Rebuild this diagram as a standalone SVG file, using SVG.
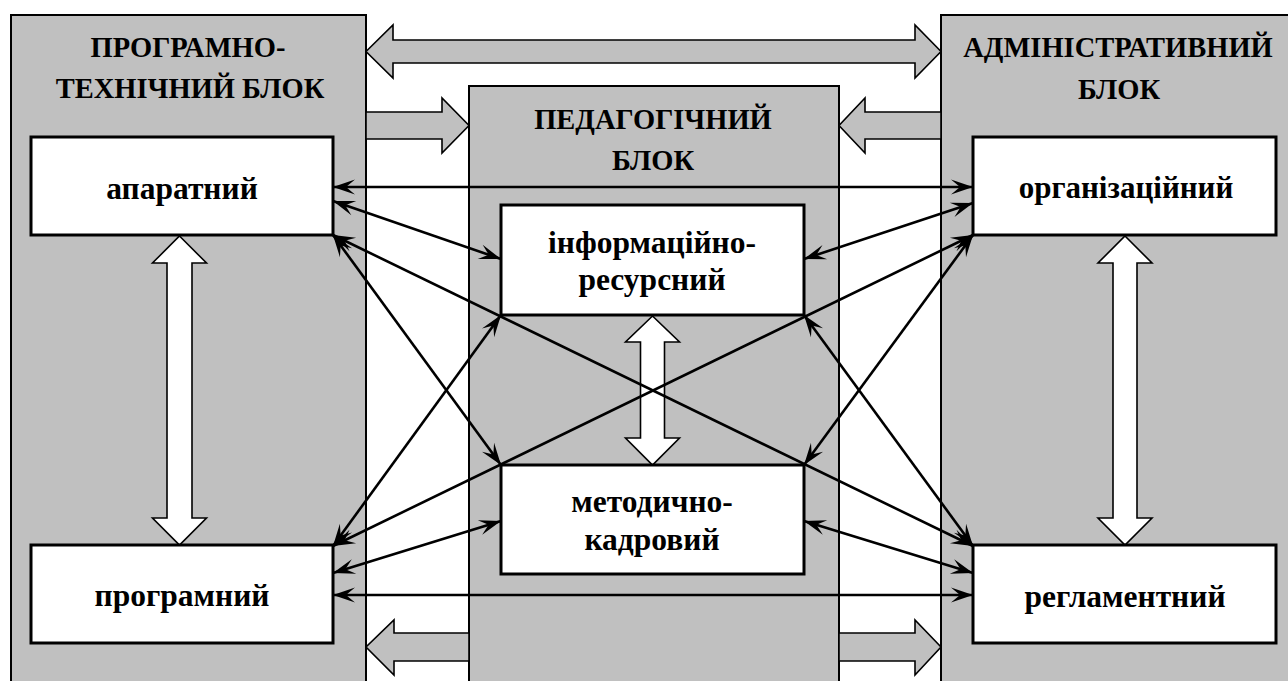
<svg xmlns="http://www.w3.org/2000/svg" width="1288" height="681" viewBox="0 0 1288 681">
<style>
.block{fill:#c0c0c0;stroke:#000;stroke-width:2}
.box{fill:#fff;stroke:#000;stroke-width:3}
.garrow{fill:#c0c0c0;stroke:#000;stroke-width:1.6;stroke-linejoin:miter}
.warrow{fill:#fff;stroke:#000;stroke-width:1.6;stroke-linejoin:miter}
.conn{stroke:#000;stroke-width:2.6;fill:none;marker-start:url(#ah);marker-end:url(#ah)}
</style>
<defs>
<marker id="ah" markerUnits="userSpaceOnUse" viewBox="-24 -9 26 18" markerWidth="26" markerHeight="18" refX="0" refY="0" orient="auto-start-reverse">
<path d="M0,0 L-22,-7.5 L-13,0 L-22,7.5 Z" fill="#000"/>
</marker>
</defs>
<rect width="1288" height="681" fill="#fff"/>
<g id="block-left">
<rect class="block" x="11" y="15" width="355" height="700"/>
<text x="188" y="57" font-family="Liberation Serif" font-weight="bold" font-size="28.5" text-anchor="middle">ПРОГРАМНО-</text>
<text x="190" y="98" font-family="Liberation Serif" font-weight="bold" font-size="28.5" text-anchor="middle">ТЕХНІЧНИЙ БЛОК</text>
</g>
<g id="block-middle">
<rect class="block" x="469" y="86" width="370" height="700"/>
<text x="653" y="129" font-family="Liberation Serif" font-weight="bold" font-size="28.5" text-anchor="middle">ПЕДАГОГІЧНИЙ</text>
<text x="653" y="170" font-family="Liberation Serif" font-weight="bold" font-size="28.5" text-anchor="middle">БЛОК</text>
</g>
<g id="block-right">
<rect class="block" x="941" y="15" width="400" height="700"/>
<text x="1118" y="57" font-family="Liberation Serif" font-weight="bold" font-size="28.5" text-anchor="middle">АДМІНІСТРАТИВНИЙ</text>
<text x="1119" y="99" font-family="Liberation Serif" font-weight="bold" font-size="28.5" text-anchor="middle">БЛОК</text>
</g>
<g id="block-arrows">
<polygon class="garrow" points="366,51.5 393,25 393,40 915,40 915,25 941,51.5 915,78 915,63 393,63 393,78"/>
<polygon class="garrow" points="366,112 442,112 442,98 469,125.5 442,153 442,139 366,139"/>
<polygon class="garrow" points="941,112 865,112 865,98 839,125.5 865,153 865,139 941,139"/>
<polygon class="garrow" points="469,633 394,633 394,620 366,647 394,675 394,661 469,661"/>
<polygon class="garrow" points="839,633 915,633 915,620 941,647 915,675 915,661 839,661"/>
<polygon class="warrow" points="179.5,236 206.5,263 192,263 192,518 206.5,518 179.5,545 152.5,518 167,518 167,263 152.5,263"/>
<polygon class="warrow" points="1125,236 1152,263 1137,263 1137,518 1152,518 1125,545 1098,518 1113,518 1113,263 1098,263"/>
<polygon class="warrow" points="652.5,316 679.5,342 664.5,342 664.5,438 679.5,438 652.5,465 625.5,438 640.5,438 640.5,342 625.5,342"/>
</g>
<g id="node-aparatnyi">
<rect class="box" x="31" y="137" width="302" height="98"/>
<text x="182" y="199" font-family="Liberation Serif" font-weight="bold" font-size="31.5" text-anchor="middle">апаратний</text>
</g>
<g id="node-prohramnyi">
<rect class="box" x="31" y="545" width="302" height="98"/>
<text x="182" y="606" font-family="Liberation Serif" font-weight="bold" font-size="31.5" text-anchor="middle">програмний</text>
</g>
<g id="node-orhanizatsiinyi">
<rect class="box" x="973" y="137" width="303" height="98"/>
<text x="1126" y="198" font-family="Liberation Serif" font-weight="bold" font-size="31" text-anchor="middle">організаційний</text>
</g>
<g id="node-rehlamentnyi">
<rect class="box" x="973" y="545" width="303" height="98"/>
<text x="1125" y="607" font-family="Liberation Serif" font-weight="bold" font-size="31.5" text-anchor="middle">регламентний</text>
</g>
<g id="node-informatsiino-resursnyi">
<rect class="box" x="501" y="205" width="303" height="110"/>
<text x="652" y="253" font-family="Liberation Serif" font-weight="bold" font-size="31.5" text-anchor="middle">інформаційно-</text>
<text x="652" y="290" font-family="Liberation Serif" font-weight="bold" font-size="31.5" text-anchor="middle">ресурсний</text>
</g>
<g id="node-metodychno-kadrovyi">
<rect class="box" x="501" y="465" width="303" height="109"/>
<text x="652" y="512" font-family="Liberation Serif" font-weight="bold" font-size="31.5" text-anchor="middle">методично-</text>
<text x="652" y="550" font-family="Liberation Serif" font-weight="bold" font-size="31.5" text-anchor="middle">кадровий</text>
</g>
<g id="connectors">
<line class="conn" x1="333" y1="187" x2="973" y2="187"/>
<line class="conn" x1="333" y1="201" x2="501" y2="259"/>
<line class="conn" x1="973" y1="203" x2="804" y2="259"/>
<line class="conn" x1="333" y1="235" x2="501" y2="465"/>
<line class="conn" x1="973" y1="235" x2="804" y2="465"/>
<line class="conn" x1="333" y1="235" x2="973" y2="546"/>
<line class="conn" x1="973" y1="235" x2="333" y2="546"/>
<line class="conn" x1="501" y1="315" x2="333" y2="546"/>
<line class="conn" x1="804" y1="315" x2="973" y2="546"/>
<line class="conn" x1="501" y1="521" x2="333" y2="573"/>
<line class="conn" x1="804" y1="521" x2="973" y2="573"/>
<line class="conn" x1="333" y1="595" x2="973" y2="595"/>
</g>
</svg>
